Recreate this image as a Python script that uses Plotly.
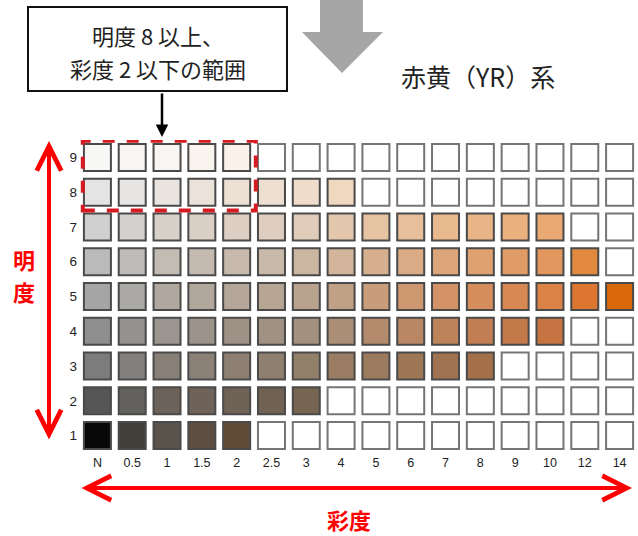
import plotly.graph_objects as go

# 彩度（横軸）と明度（縦軸）
CHROMA = ["N", "0.5", "1", "1.5", "2", "2.5", "3", "4", "5", "6", "7", "8", "9", "10", "12", "14"]
VALUES = [9, 8, 7, 6, 5, 4, 3, 2, 1]

# 各明度の色票（左から順に、ない所は白抜き）
ROW_9 = ["#f7f7f6", "#f8f6f4", "#f9f5f2", "#faf4ef", "#fbf3eb"]
ROW_8 = ["#e4e4e4", "#e7e5e3", "#e9e4df", "#ebe2da", "#ede0d4", "#eedfd0", "#efdccb", "#f0d8c0"]
ROW_7 = ["#d0d0d0", "#d4d2d0", "#d8d1ca", "#dbd0c6", "#ddcfc3", "#dfcdbf", "#e1ccb9", "#e4c8ae",
         "#e6c3a3", "#e7bf9a", "#e8b98f", "#e9b586", "#eab07d", "#eaa872"]
ROW_6 = ["#bababa", "#bebcb9", "#c3bcb3", "#c5bab0", "#c7baad", "#c9b9a8", "#cbb7a1", "#d2b59a",
         "#d6b08e", "#daab84", "#dda67a", "#dfa170", "#e09c67", "#e1975e", "#e1893f"]
ROW_5 = ["#a5a5a5", "#aba9a5", "#b0a89f", "#b2a79c", "#b4a698", "#b7a593", "#b9a38e", "#c0a185",
         "#c79d7c", "#cd9870", "#d29266", "#d58d5b", "#d88852", "#db8247", "#dc7630", "#d9690a"]
ROW_4 = ["#8e8e8e", "#94928f", "#9a958e", "#9c938b", "#9e9287", "#a19183", "#a3907f", "#ab8e76",
         "#b38b6c", "#b98763", "#bd835a", "#c07e52", "#c3794a", "#c67442"]
ROW_3 = ["#7c7c7c", "#82807d", "#888077", "#8b8176", "#8d8072", "#8f7f6e", "#93806b", "#9a7d62",
         "#9c7a5e", "#9e7757", "#a07350", "#a3704a"]
ROW_2 = ["#555555", "#63615e", "#6c6259", "#6e6259", "#6f6256", "#716152", "#756551"]
ROW_1 = ["#080808", "#423f3b", "#5a534c", "#5c4e42", "#604c36"]

ROWS = [ROW_9, ROW_8, ROW_7, ROW_6, ROW_5, ROW_4, ROW_3, ROW_2, ROW_1]

W, H = 638, 536
ML, MR, MT, MB = 80, 1, 140, 83


def px_x(x):
    return (x - ML) / (W - ML - MR)


def px_y(y):
    return (H - MB - y) / (H - MT - MB)


xs, ys, fills, edges = [], [], [], []
for v, row in zip(VALUES, ROWS):
    for i, c in enumerate(CHROMA):
        xs.append(c)
        ys.append(v)
        if i < len(row):
            fills.append(row[i])
            edges.append("#4a4a4a")
        else:
            fills.append("#ffffff")
            edges.append("#757575")

fig = go.Figure(go.Scatter(
    x=xs, y=ys, mode="markers", hoverinfo="skip",
    marker=dict(symbol="square", size=27, color=fills, line=dict(color=edges, width=2)),
))

RED = "#ff0000"
fig.update_layout(
    width=W, height=H,
    margin=dict(l=ML, r=MR, t=MT, b=MB),
    paper_bgcolor="white", plot_bgcolor="white",
    showlegend=False,
    font=dict(family="Liberation Sans, Arial, sans-serif", color="#222"),
    xaxis=dict(type="category", categoryorder="array", categoryarray=CHROMA,
               range=[-0.5, 15.5], showgrid=False, zeroline=False, showline=False,
               ticks="", tickfont=dict(size=12.5), fixedrange=True),
    yaxis=dict(range=[0.5, 9.5], tickvals=VALUES, showgrid=False, zeroline=False,
               showline=False, ticks="", tickfont=dict(size=13.5), ticklabelstandoff=2,
               fixedrange=True),
)

# 明度8以上・彩度2以下の範囲
fig.add_shape(type="rect", xref="x", yref="y", x0=-0.42, x1=4.55, y0=7.47, y1=9.48,
              line=dict(color="#d51a22", width=4, dash="dash"))

# 上部の灰色矢印
gx0, gx1, hx0, hx1, tipx = px_x(320), px_x(363), px_x(302), px_x(383), px_x(342)
gy0, gy1, tipy = px_y(0), px_y(32), px_y(73)
fig.add_shape(type="path", xref="paper", yref="paper", fillcolor="#a6a6a6", line_width=0,
              path=f"M{gx0},{gy0} L{gx1},{gy0} L{gx1},{gy1} L{hx1},{gy1} L{tipx},{tipy} "
                   f"L{hx0},{gy1} L{gx0},{gy1} Z")

# 吹き出しの枠
fig.add_shape(type="rect", xref="paper", yref="paper",
              x0=px_x(28), x1=px_x(287), y0=px_y(91), y1=px_y(7),
              line=dict(color="#111", width=2), fillcolor="white")

JP = "Noto Sans CJK JP"


def label(x, y, text, size, color="#222"):
    fig.add_annotation(xref="paper", yref="paper", x=px_x(x), y=px_y(y), showarrow=False,
                       xanchor="center", yanchor="middle", align="center", text=text,
                       font=dict(family=JP, size=size, color=color))


label(158, 35, "明度 8 以上、", 22)
label(158, 68, "彩度 2 以下の範囲", 22)
fig.add_annotation(xref="paper", yref="paper", x=px_x(162), y=px_y(137), ax=0, ay=-45,
                   text="", showarrow=True, arrowhead=2, arrowsize=1, arrowwidth=2.5,
                   arrowcolor="#000")

label(478, 76, "赤黄（YR）系", 25)

# 明度の矢印
fig.add_annotation(xref="paper", yref="paper", x=px_x(49), y=px_y(141), ax=0, ay=300,
                   text="", showarrow=True, arrowside="end+start", arrowhead=5,
                   arrowsize=1.2, arrowwidth=4, arrowcolor=RED)
label(24, 259, "<b>明</b>", 22, RED)
label(24, 291, "<b>度</b>", 22, RED)

# 彩度の矢印
fig.add_annotation(xref="paper", yref="paper", x=px_x(632), y=px_y(488), ax=-552, ay=0,
                   text="", showarrow=True, arrowside="end+start", arrowhead=5,
                   arrowsize=1.2, arrowwidth=4, arrowcolor=RED)
label(349, 519, "<b>彩度</b>", 22, RED)

fig.write_html("out.html", config={"displayModeBar": False},
               post_script="document.body.style.margin = '0';")
